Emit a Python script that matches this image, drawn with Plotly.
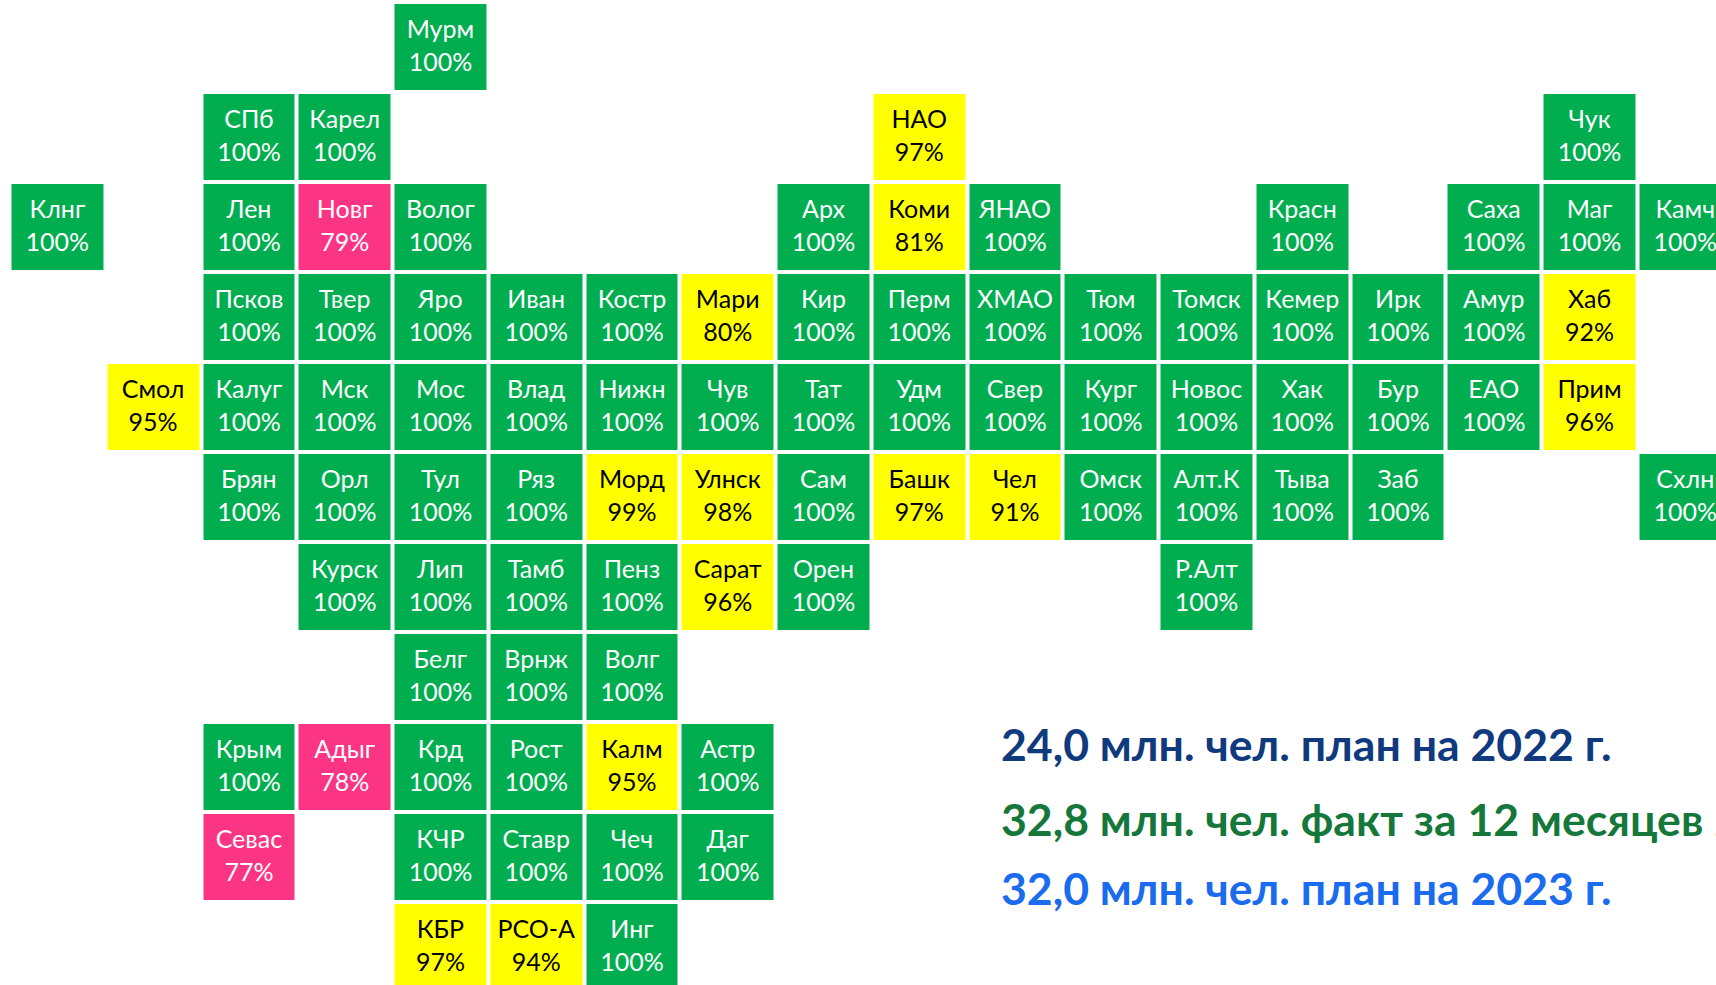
import plotly.graph_objects as go

regions = ["Мурм","СПб","Карел","НАО","Чук",
 "Клнг","Лен","Новг","Волог","Арх","Коми","ЯНАО","Красн","Саха","Маг","Камч",
 "Псков","Твер","Яро","Иван","Костр","Мари","Кир","Перм","ХМАО","Тюм","Томск","Кемер","Ирк","Амур","Хаб",
 "Смол","Калуг","Мск","Мос","Влад","Нижн","Чув","Тат","Удм","Свер","Кург","Новос","Хак","Бур","ЕАО","Прим",
 "Брян","Орл","Тул","Ряз","Морд","Улнск","Сам","Башк","Чел","Омск","Алт.К","Тыва","Заб","Схлн",
 "Курск","Лип","Тамб","Пенз","Сарат","Орен","Р.Алт",
 "Белг","Врнж","Волг",
 "Крым","Адыг","Крд","Рост","Калм","Астр",
 "Севас","КЧР","Ставр","Чеч","Даг",
 "КБР","РСО-А","Инг"]
cols = [4, 2,3,9,16,
 0,2,3,4,8,9,10,13,15,16,17,
 2,3,4,5,6,7,8,9,10,11,12,13,14,15,16,
 1,2,3,4,5,6,7,8,9,10,11,12,13,14,15,16,
 2,3,4,5,6,7,8,9,10,11,12,13,14,17,
 3,4,5,6,7,8,12,
 4,5,6,
 2,3,4,5,6,7,
 2,4,5,6,7,
 4,5,6]
rows = [0, 1,1,1,1,
 2,2,2,2,2,2,2,2,2,2,2,
 3,3,3,3,3,3,3,3,3,3,3,3,3,3,3,
 4,4,4,4,4,4,4,4,4,4,4,4,4,4,4,4,
 5,5,5,5,5,5,5,5,5,5,5,5,5,5,
 6,6,6,6,6,6,6,
 7,7,7,
 8,8,8,8,8,8,
 9,9,9,9,9,
 10,10,10]
values = [100, 100,100,97,100,
 100,100,79,100,100,81,100,100,100,100,100,
 100,100,100,100,100,80,100,100,100,100,100,100,100,100,92,
 95,100,100,100,100,100,100,100,100,100,100,100,100,100,100,96,
 100,100,100,100,99,98,100,97,91,100,100,100,100,100,
 100,100,100,100,96,100,100,
 100,100,100,
 100,78,100,100,95,100,
 77,100,100,100,100,
 97,94,100]
summary_lines = ["24,0 млн. чел. план на 2022 г.",
                 "32,8 млн. чел. факт за 12 месяцев 2022 г.",
                 "32,0 млн. чел. план на 2023 г."]

GREEN, YELLOW, PINK = "#00AE50", "#FFFF00", "#FB3584"
W, H = 1716, 985
n_cols, n_rows = max(cols) + 1, max(rows) + 1
z = [[None] * n_cols for _ in range(n_rows)]
for c, r, v in zip(cols, rows, values):
    z[r][c] = v

pitch_x, pitch_y = 95.76, 90.0
t1, t2 = (79.5 - 70) / 30, (99.5 - 70) / 30
fig = go.Figure()
fig.add_trace(go.Heatmap(
    z=z, x=list(range(n_cols)), y=list(range(n_rows)),
    zmin=70, zmax=100, showscale=False, xgap=4, ygap=4, hoverinfo="skip",
    colorscale=[[0, PINK], [t1, PINK], [t1, YELLOW], [t2, YELLOW], [t2, GREEN], [1, GREEN]],
))
text_dy = 1.2 / pitch_y
fig.add_trace(go.Scatter(
    x=cols, y=[r + text_dy for r in rows], mode="text",
    text=[f"{n}<br>{v}%" for n, v in zip(regions, values)],
    textposition="middle center",
    textfont=dict(family="Lato", size=25, weight=400,
                  color=["black" if 80 <= v < 100 else "white" for v in values]),
    hoverinfo="skip", showlegend=False,
))

x0 = -0.5 - 9.5 / pitch_x
y0 = -0.5 - 2 / pitch_y
fig.update_xaxes(range=[x0, x0 + W / pitch_x], visible=False, fixedrange=True)
fig.update_yaxes(range=[y0 + H / pitch_y, y0], visible=False, fixedrange=True)

for txt, color, py in zip(summary_lines, ["#0F3A7D", "#15783A", "#1A6BEE"], [743, 818, 887]):
    fig.add_annotation(text=txt, xref="paper", yref="paper", x=999 / W, y=1 - py / H,
                       xanchor="left", yanchor="middle", showarrow=False, align="left",
                       font=dict(family="Lato", size=44.6, color=color, weight=700))

fig.update_layout(width=W, height=H, margin=dict(l=0, r=0, t=0, b=0),
                  paper_bgcolor="white", plot_bgcolor="white", showlegend=False)
fig.write_html("out.html", config={"displayModeBar": False},
               post_script="document.body.style.margin='0';document.documentElement.style.overflow='hidden';")
